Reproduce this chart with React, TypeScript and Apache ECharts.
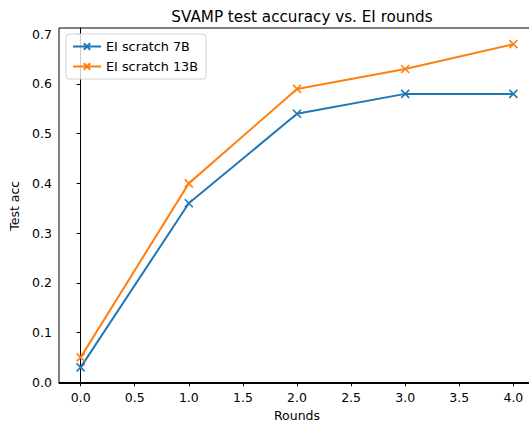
import React, { useEffect, useRef } from "react";
import * as echarts from "echarts";

const rounds = [0, 1, 2, 3, 4];
const scratch7B = [0.03, 0.36, 0.54, 0.58, 0.58];
const scratch13B = [0.05, 0.4, 0.59, 0.63, 0.68];
const xTicks = [0, 0.5, 1, 1.5, 2, 2.5, 3, 3.5, 4];
const yTicks = [0, 0.1, 0.2, 0.3, 0.4, 0.5, 0.6, 0.7];

const FONT = "DejaVu Sans";
const CROSS = "path://M0,0L10,10M10,0L0,10";

export default function App() {
  const ref = useRef<HTMLDivElement>(null);

  useEffect(() => {
    const chart = echarts.init(ref.current!, null, { renderer: "svg" });
    const mk = (name: string, ys: number[], color: string) => ({
      name,
      type: "line",
      data: rounds.map((r, i) => [r, ys[i]]),
      symbol: CROSS,
      symbolSize: 8,
      showSymbol: true,
      lineStyle: { color, width: 2 },
      itemStyle: { color, borderColor: color, borderWidth: 1.6 },
      emphasis: { disabled: true },
    });
    chart.setOption({
      animation: false,
      textStyle: { fontFamily: FONT },
      title: {
        text: "SVAMP test accuracy vs. EI rounds",
        left: 297,
        textAlign: "center",
        top: 4,
        textStyle: { fontFamily: FONT, fontSize: 15.2, fontWeight: "normal", color: "#000" },
      },
      legend: {
        orient: "vertical",
        left: 66,
        top: 34,
        itemWidth: 28,
        itemHeight: 8,
        itemGap: 7,
        padding: [6, 8, 6, 6],
        borderColor: "#d4d4d4",
        borderWidth: 1,
        borderRadius: 3,
        backgroundColor: "rgba(255,255,255,0.8)",
        textStyle: { fontFamily: FONT, fontSize: 12.8, color: "#000" },
        data: ["EI scratch 7B", "EI scratch 13B"],
      },
      grid: {
        left: 59,
        right: 0,
        top: 28,
        bottom: 39.5,
        outerBoundsMode: "none",
        containLabel: false,
        show: true,
        borderColor: "#000",
        borderWidth: 1,
        backgroundColor: "transparent",
      },
      xAxis: {
        type: "value",
        min: -0.2,
        max: 4.2,
        name: "Rounds",
        nameLocation: "middle",
        nameGap: 25,
        nameTextStyle: { fontFamily: FONT, fontSize: 12.5, color: "#000" },
        axisLine: { show: true, lineStyle: { color: "#000", width: 1 } },
        axisTick: { show: true, length: 4, lineStyle: { color: "#000" }, customValues: xTicks },
        axisLabel: {
          fontFamily: FONT,
          fontSize: 12.5,
          color: "#000",
          margin: 7,
          customValues: xTicks,
          formatter: (v: number) => v.toFixed(1),
        },
        splitLine: { show: false },
      },
      yAxis: {
        type: "value",
        min: -0.0025,
        max: 0.7125,
        name: "Test acc",
        nameLocation: "middle",
        nameGap: 38,
        nameRotate: 90,
        nameTextStyle: { fontFamily: FONT, fontSize: 12.5, color: "#000" },
        axisLine: { show: true, lineStyle: { color: "#000", width: 1 } },
        axisTick: { show: true, length: 4, lineStyle: { color: "#000" }, customValues: yTicks },
        axisLabel: {
          fontFamily: FONT,
          fontSize: 12.5,
          color: "#000",
          margin: 7,
          customValues: yTicks,
          formatter: (v: number) => v.toFixed(1),
        },
        splitLine: { show: false },
      },
      series: [mk("EI scratch 7B", scratch7B, "#1f77b4"), mk("EI scratch 13B", scratch13B, "#ff7f0e")],
    });
    return () => chart.dispose();
  }, []);

  return (
    <div style={{ width: 529, height: 423, position: "absolute", left: 0, top: 0, overflow: "hidden" }}>
      <div ref={ref} style={{ width: 535, height: 423 }} />
    </div>
  );
}
